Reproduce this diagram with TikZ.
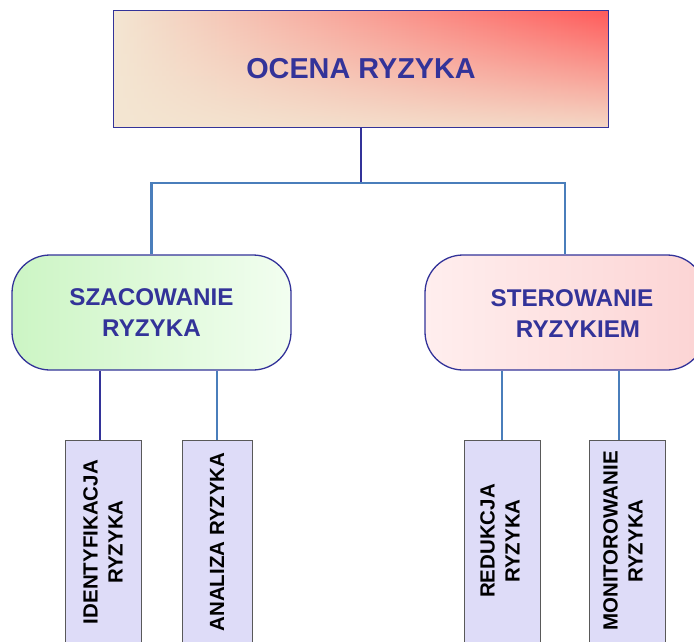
\documentclass[tikz,border=0pt]{standalone}
\usepackage{fontspec}
\usetikzlibrary{fadings}
\setmainfont{Liberation Sans}
\definecolor{navy}{HTML}{333399}
\definecolor{steel}{HTML}{4A7EBB}
\definecolor{lav}{HTML}{DEDCF8}
\definecolor{cream}{HTML}{F3E6D2}
\definecolor{hotred}{HTML}{FF5A5A}
\definecolor{greenA}{HTML}{CCF5C4}
\definecolor{greenB}{HTML}{F2FEF0}
\definecolor{pinkA}{HTML}{FFEEEE}
\definecolor{pinkB}{HTML}{FCD4D4}
\tikzfading[name=fadeup, top color=transparent!100, middle color=transparent!80, bottom color=transparent!10]
\tikzset{
  topbox/.style={line width=1.2pt, minimum width=494pt, minimum height=116pt, inner sep=0pt},
  midbox/.style={draw=navy, line width=1.3pt, rounded corners=38pt, minimum height=115pt, inner sep=0pt},
  midtext/.style={align=center, font=\bfseries\fontsize{24.2}{31}\selectfont, text=navy},
  lowbox/.style={draw=black!65, line width=1pt, fill=lav, minimum height=210pt, inner sep=0pt, anchor=north},
  lowtext/.style={rotate=90, align=center, font=\bfseries\fontsize{20.5}{25}\selectfont, text=black},
  darkline/.style={draw=navy, line width=2.3pt},
  lightline/.style={draw=steel, line width=2.3pt}
}
\begin{document}
\begin{tikzpicture}[x=1pt,y=-1pt]
\useasboundingbox (0,0) rectangle (694,642);
\clip (0,0) rectangle (694,642);
% top
\node[topbox, left color=cream, right color=hotred] (top) at (361,69) {};
\fill[cream, path fading=fadeup] (top.north west) rectangle (top.south east);
\draw[navy, line width=1.2pt] (top.north west) rectangle (top.south east);
\node[font=\bfseries\fontsize{28.8}{32}\selectfont, text=navy] (toptext) at (361,69) {OCENA RYZYKA};
% middle
\node[midbox, minimum width=279pt, left color=greenA, right color=greenB] (szac) at (151.5,312.5) {};
\node[midtext] (szactext) at (151.5,312.5) {SZACOWANIE\\RYZYKA};
\node[midbox, minimum width=280pt, left color=pinkA, right color=pinkB] (ster) at (565,312.5) {};
\node[midtext] (stertext) at (572,314) {STEROWANIE\\\hspace*{12pt}RYZYKIEM};
% bottom boxes
\node[lowbox, minimum width=76pt] (ident) at (103,440) {};
\node[lowbox, minimum width=70pt] (anal) at (217,440) {};
\node[lowbox, minimum width=76pt] (redu) at (502,440) {};
\node[lowbox, minimum width=76pt] (moni) at (627,440) {};
\node[lowtext] (identtext) at (103,542) {IDENTYFIKACJA\\RYZYKA};
\node[lowtext] (analtext) at (217,542) {ANALIZA RYZYKA};
\node[lowtext] (redutext) at (500,541) {REDUKCJA\\RYZYKA};
\node[lowtext] (monitext) at (623,541) {MONITOROWANIE\\RYZYKA};
% connectors
\coordinate (bus) at (361,183);
\draw[darkline] (top.south) -- (bus);
\draw[lightline] (szac.north) |- (bus) -| (ster.north);
\draw[darkline] ([xshift=-3pt]ident.north) -- ([xshift=-3pt]ident.north |- szac.south);
\draw[lightline] (anal.north) -- (anal.north |- szac.south);
\draw[lightline] (redu.north) -- (redu.north |- ster.south);
\draw[lightline] ([xshift=-8pt]moni.north) -- ([xshift=-8pt]moni.north |- ster.south);
\end{tikzpicture}
\end{document}
